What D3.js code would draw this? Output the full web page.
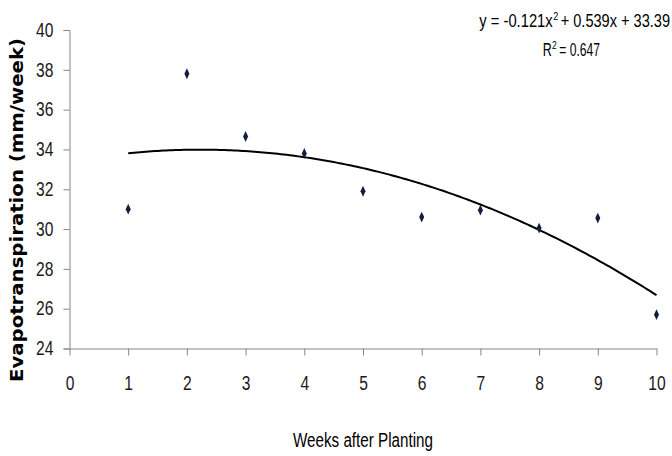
<!DOCTYPE html>
<html>
<head>
<meta charset="utf-8">
<script src="https://cdn.jsdelivr.net/npm/d3@7"></script>
<style>
  html, body { margin: 0; padding: 0; background: #fff; }
  svg { display: block; }
</style>
</head>
<body>
<svg id="chart" width="672" height="456"></svg>
<script>
// Weekly evapotranspiration after planting
const weeks = [1, 2, 3, 4, 5, 6, 7, 8, 9, 10];
const evapo = [31.0, 37.8, 34.65, 33.8, 31.9, 30.6, 30.95, 30.05, 30.55, 25.7];

// Second-order polynomial trendline: y = a x^2 + b x + c
const trendCoef = [-0.121, 0.539, 33.39];
const trendLabel = ["y = -0.121x", "2", "+ 0.539x + 33.39"];
const r2Label = ["R", "2", "= 0.647"];

const xTicks = [0, 1, 2, 3, 4, 5, 6, 7, 8, 9, 10];
const yTicks = [24, 26, 28, 30, 32, 34, 36, 38, 40];

const svg = d3.select("#chart");
const margin = { left: 69.5, right: 15.5, top: 30, bottom: 107.5 };
const W = 672, H = 456;

const x = d3.scaleLinear().domain([0, 10]).range([margin.left, W - margin.right]);
const y = d3.scaleLinear().domain([24, 40]).range([H - margin.bottom, margin.top]);

// Narrow look: a regular sans squeezed horizontally via textLength
const labelFont = "'Liberation Sans', Arial, sans-serif";
const digitW = 8.7;
const axisColor = "#868686";

function styleTicks(sel) {
  sel.selectAll(".tick line").attr("stroke", axisColor);
  sel.selectAll(".tick text")
    .attr("fill", "#1a1a1a")
    .style("font-family", labelFont)
    .style("font-size", "19.5px")
    .attr("textLength", d => String(d).length * digitW)
    .attr("lengthAdjust", "spacingAndGlyphs");
  sel.select(".domain").attr("stroke", axisColor).attr("stroke-width", 1);
}

// Y axis
const yAxis = svg.append("g")
  .attr("transform", `translate(${x(0)},0)`)
  .call(d3.axisLeft(y).tickValues(yTicks).tickSize(6).tickPadding(10).tickFormat(d3.format("d")));
styleTicks(yAxis);

// X axis
const xAxis = svg.append("g")
  .attr("transform", `translate(0,${y(24)})`)
  .call(d3.axisBottom(x).tickValues(xTicks).tickSize(7).tickSizeOuter(0).tickPadding(21).tickFormat(d3.format("d")));
styleTicks(xAxis);

// Trendline over the observed week range
const trend = xv => trendCoef[0] * xv * xv + trendCoef[1] * xv + trendCoef[2];
const trendPts = d3.range(weeks[0], weeks[weeks.length - 1] + 0.001, 0.05).map(v => [v, trend(v)]);
svg.append("path")
  .datum(trendPts)
  .attr("fill", "none")
  .attr("stroke", "#000")
  .attr("stroke-width", 2)
  .attr("d", d3.line().x(d => x(d[0])).y(d => y(d[1])));

// Observed points as diamond markers
const diamond = d3.symbol().type(d3.symbolDiamond).size(34);
svg.append("g").selectAll("path")
  .data(weeks.map((w, i) => ({ w, v: evapo[i] })))
  .join("path")
  .attr("d", diamond)
  .attr("transform", d => `translate(${x(d.w)},${y(d.v)}) scale(0.8,1)`)
  .attr("fill", "#0f1f3d");

// Axis titles
svg.append("text")
  .attr("transform", `translate(23,${(38 + 382) / 2}) rotate(-90)`)
  .attr("text-anchor", "middle")
  .style("font-family", "'DejaVu Sans', Verdana, sans-serif")
  .style("font-weight", "bold")
  .style("font-size", "17.5px")
  .attr("textLength", 344)
  .attr("lengthAdjust", "spacingAndGlyphs")
  .attr("fill", "#000")
  .text("Evapotranspiration (mm/week)");

svg.append("text")
  .attr("x", 293)
  .attr("y", 447)
  .style("font-family", labelFont)
  .style("font-size", "19.5px")
  .attr("textLength", 140)
  .attr("lengthAdjust", "spacingAndGlyphs")
  .attr("fill", "#000")
  .text("Weeks after Planting");

// Trendline equation and R-squared: base text, superscript, base text
function labelWithSup(parts, xs, widths, base) {
  parts.forEach((p, i) => {
    const sup = i === 1;
    svg.append("text")
      .attr("x", xs[i])
      .attr("y", sup ? base - 7.5 : base)
      .style("font-family", labelFont)
      .style("font-size", sup ? "11px" : "19px")
      .attr("textLength", widths[i])
      .attr("lengthAdjust", "spacingAndGlyphs")
      .attr("fill", "#000")
      .text(p);
  });
}
labelWithSup(trendLabel, [479.3, 553.3, 560.7], [73.4, 5, 109.3], 27.3);
labelWithSup(r2Label, [542.7, 552, 559.3], [9, 4.7, 40.7], 56);
</script>
</body>
</html>
